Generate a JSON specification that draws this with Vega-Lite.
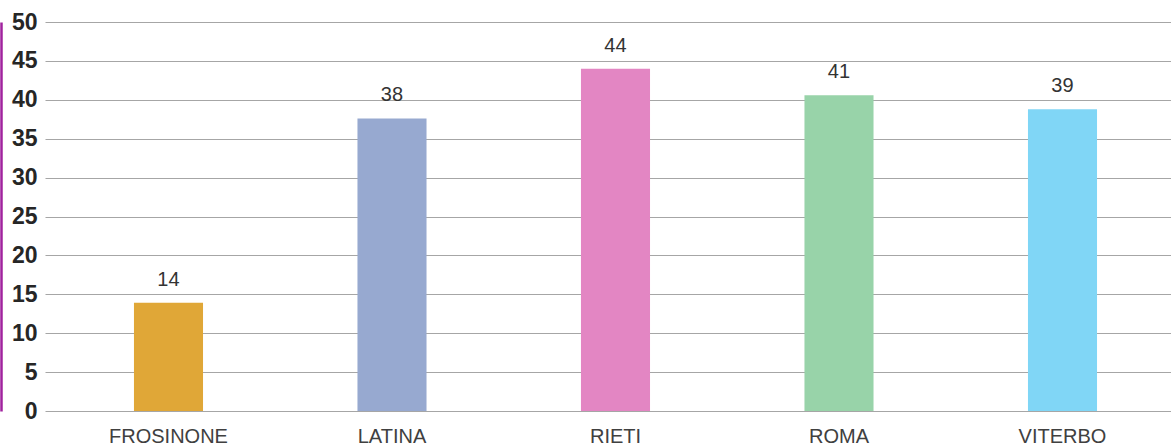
{
  "$schema": "https://vega.github.io/schema/vega-lite/v6.json",
  "width": 1126,
  "height": 389,
  "autosize": "none",
  "padding": {"left": 45, "top": 22, "right": 0, "bottom": 35},
  "background": "white",
  "config": {"view": {"stroke": null}},
  "data": {
    "values": [
      {"provincia": "FROSINONE", "valore": 13.9},
      {"provincia": "LATINA", "valore": 37.6},
      {"provincia": "RIETI", "valore": 44.0},
      {"provincia": "ROMA", "valore": 40.6},
      {"provincia": "VITERBO", "valore": 38.8}
    ]
  },
  "encoding": {
    "x": {
      "field": "provincia",
      "type": "nominal",
      "sort": null,
      "scale": {"paddingInner": 0.691, "paddingOuter": 0.3645, "align": 0.546},
      "axis": {
        "title": null,
        "labelAngle": 0,
        "domain": false,
        "ticks": false,
        "labelFont": "Liberation Sans",
        "labelFontSize": 20,
        "labelColor": "#404040",
        "labelPadding": 15
      }
    },
    "y": {
      "field": "valore",
      "type": "quantitative",
      "scale": {"domain": [0, 50], "nice": false},
      "axis": {
        "title": null,
        "values": [0, 5, 10, 15, 20, 25, 30, 35, 40, 45, 50],
        "grid": true,
        "gridColor": "#a6a6a6",
        "gridWidth": 1.2,
        "domain": true,
        "domainColor": "#a0229e",
        "domainWidth": 2.5,
        "offset": 44,
        "ticks": false,
        "labelPadding": -36,
        "labelFont": "Liberation Sans",
        "labelFontWeight": "bold",
        "labelFontSize": 23,
        "labelColor": "#262626"
      }
    }
  },
  "layer": [
    {
      "mark": {"type": "bar"},
      "encoding": {
        "color": {
          "field": "provincia",
          "type": "nominal",
          "sort": null,
          "legend": null,
          "scale": {
            "domain": ["FROSINONE", "LATINA", "RIETI", "ROMA", "VITERBO"],
            "range": ["#e0a737", "#97a9d0", "#e386c3", "#98d3a9", "#80d6f6"]
          }
        }
      }
    },
    {
      "mark": {
        "type": "text",
        "baseline": "alphabetic",
        "dy": -17,
        "font": "Liberation Sans",
        "fontSize": 20,
        "color": "#333333"
      },
      "encoding": {
        "text": {"field": "valore", "type": "quantitative", "format": ".0f"}
      }
    }
  ]
}
